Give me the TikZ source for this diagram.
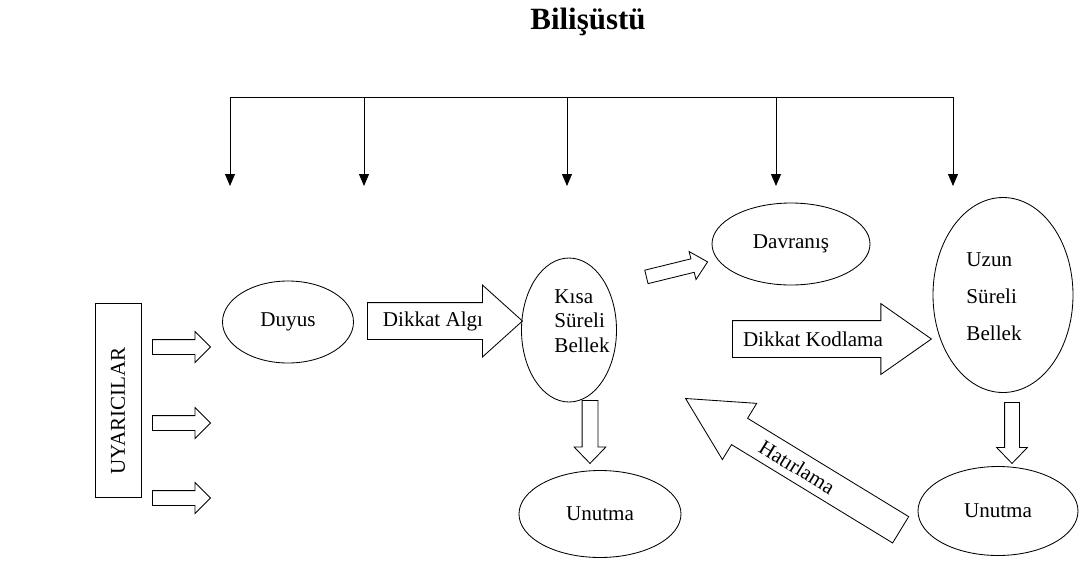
\documentclass[tikz,border=0pt]{standalone}
\usepackage{fontspec}
\setmainfont{Liberation Serif}
\usepackage{tikz}
\usetikzlibrary{arrows.meta}
\usetikzlibrary{shapes.geometric, shapes.arrows}

% one pixel of the layout
\newcommand{\pxu}{0.025cm}

\begin{document}
\begin{tikzpicture}[x=0.025cm, y=-0.025cm, line width=0.6pt,
    every node/.style={font=\fontsize{15}{18}\selectfont},
    oval/.style={draw, ellipse, inner sep=0pt},
    hollow/.style={draw, single arrow, inner xsep=0pt, anchor=tail,
      single arrow head indent=0pt},
    arr/.style={-{Triangle[length=0.3cm, width=0.25cm]}}
  ]
  \useasboundingbox (0,0) rectangle (1081,562);

  \node[font=\fontsize{22}{26}\selectfont\bfseries] (title) at (588,22) {Bilişüstü};

  % the bus on top
  \foreach \x [count=\i] in {230,364,567,776,953} {
    \coordinate (bus\i) at (\x,97);
    \coordinate (end\i) at (\x,186);
    \draw[arr] (bus\i) -- (end\i);
  }
  \draw (bus1) -- (bus5);

  % stimuli
  \node[draw, inner sep=0pt, minimum width=46*\pxu, minimum height=194*\pxu] (uyari) at (118,400) {};
  \node[rotate=90] (uyaritxt) at (118,411) {UYARICILAR};
  \foreach \y [count=\i] in {347,423,498}
    \node[hollow, minimum height=58*\pxu, inner ysep=7*\pxu,
      single arrow head extend=8*\pxu] (giris\i) at (152,\y) {};

  % the stores
  \node[oval, minimum width=131*\pxu, minimum height=82*\pxu] (duyus) at (288,322) {Duyus};
  \node[oval, minimum width=95*\pxu, minimum height=144*\pxu] (kisa) at (569,330) {};
  \node[align=left, inner sep=0pt, font=\fontsize{15}{17.4}\selectfont] (kisatxt) at (582,321) {Kısa\\Süreli\\Bellek};
  \node[oval, minimum width=158*\pxu, minimum height=82*\pxu] (davranis) at (791,244) {Davranış};
  \node[oval, minimum width=140*\pxu, minimum height=195*\pxu] (uzun) at (1003,295) {};
  \node[align=left, inner sep=0pt, font=\fontsize{15}{26.2}\selectfont] (uzuntxt) at (994,297) {Uzun\\Süreli\\Bellek};
  \node[oval, minimum width=162*\pxu, minimum height=87*\pxu] (unutma1) at (600,514) {Unutma};
  \node[oval, minimum width=160*\pxu, minimum height=89*\pxu] (unutma2) at (998,511) {Unutma};

  % block arrows between them
  \node[hollow, minimum height=155*\pxu, inner ysep=18*\pxu,
    single arrow head extend=17.5*\pxu, single arrow tip angle=84] (algi) at (367,321) {};
  \node (algitxt) at (433,321) {Dikkat Algı};
  \node[hollow, minimum height=199*\pxu, inner ysep=18*\pxu,
    single arrow head extend=17*\pxu, single arrow tip angle=70] (kodlama) at (732,339) {};
  \node (kodlamatxt) at (813,339) {Dikkat Kodlama};
  \node[hollow, minimum height=63*\pxu, inner ysep=6.5*\pxu, rotate=13.8,
    single arrow head extend=7.5*\pxu, single arrow tip angle=86] (tepki) at (646,277) {};
  \node[hollow, minimum height=252*\pxu, inner ysep=15*\pxu, rotate=148.6,
    single arrow head extend=17.5*\pxu, single arrow tip angle=55] (hatirlama) at (901,530) {};
  \node[rotate=-31.4] (hatirlamatxt) at (797,467) {Hatırlama};
  \node[hollow, minimum height=63*\pxu, inner ysep=7.5*\pxu, rotate=-90,
    single arrow head extend=8*\pxu, single arrow tip angle=88] (unut1) at (590,400) {};
  \node[hollow, minimum height=61*\pxu, inner ysep=7*\pxu, rotate=-90,
    single arrow head extend=8*\pxu, single arrow tip angle=88] (unut2) at (1012,402) {};

\end{tikzpicture}
\end{document}
